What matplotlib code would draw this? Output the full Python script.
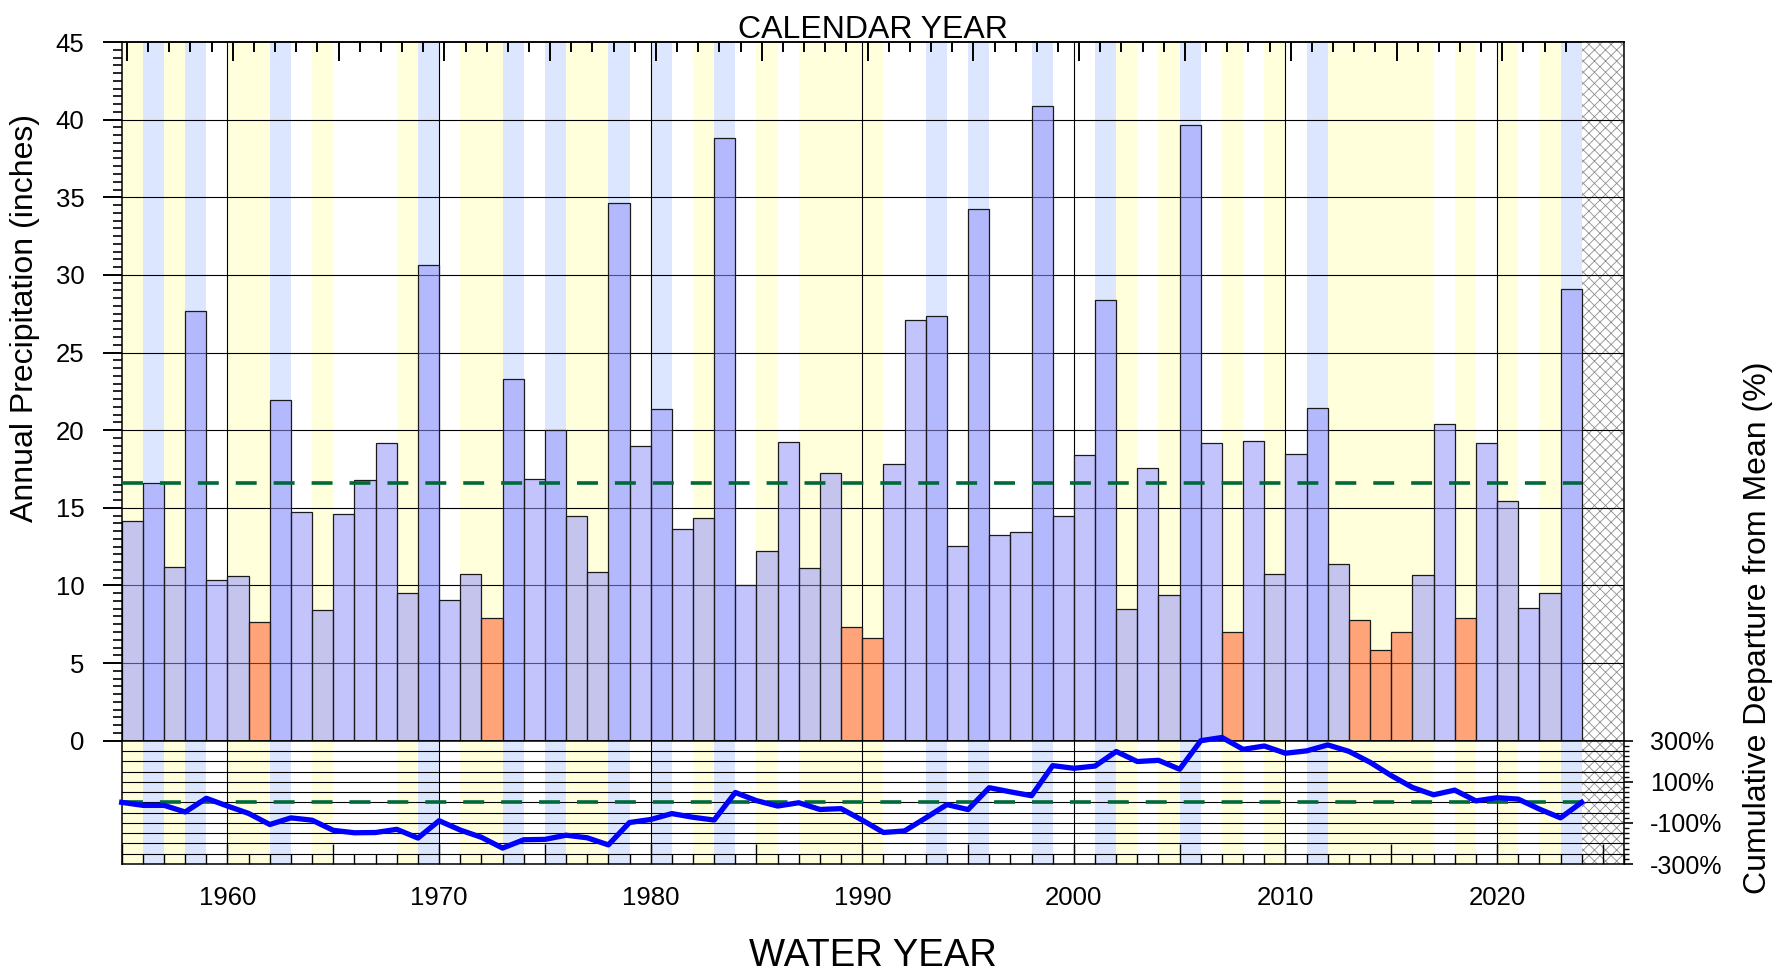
import numpy as np
import matplotlib
matplotlib.use("Agg")
from matplotlib import pyplot as plt
from matplotlib.ticker import MultipleLocator, FuncFormatter, NullFormatter

plt.rcParams['font.family'] = ['Liberation Sans', 'DejaVu Sans']
plt.rcParams['hatch.linewidth'] = 0.6

# Water years (bar spans [wy, wy+1])
years = np.arange(1955, 2024)

# Annual precipitation (inches)
precip = np.array([
    14.18, 16.59, 11.20, 27.67, 10.33, 10.63, 7.65, 21.95, 14.71, 8.40,   # 1955-64
    14.62, 16.80, 19.18, 9.53, 30.61, 9.05, 10.72, 7.89, 23.32, 16.88,    # 1965-74
    19.98, 14.50, 10.87, 34.66, 19.00, 21.38, 13.61, 14.35, 38.83, 10.04, # 1975-84
    12.21, 19.27, 11.14, 17.27, 7.30, 6.64, 17.84, 27.10, 27.34, 12.57,   # 1985-94
    34.25, 13.25, 13.46, 40.89, 14.44, 18.37, 28.38, 8.49, 17.54, 9.41,   # 1995-2004
    39.64, 19.18, 7.00, 19.30, 10.75, 18.49, 21.41, 11.38, 7.77, 5.87,    # 2005-14
    7.00, 10.66, 20.37, 7.89, 19.18, 15.43, 8.55, 9.50, 29.12,            # 2015-23
])

# background stripe per year: L = yellow, E = blue, N = none
enso = list(
    "LELENLLENLNNNLENLLEN"   # 1955-74
    "ELLENENLENLNLLLLNNEN"   # 1975-94
    "ENNENNELNLENLNLNELLL"   # 1995-2014
    "LLNLNLNLE"              # 2015-23
)

decades = [1960, 1970, 1980, 1990, 2000, 2010, 2020]
xmin, xmax = 1955, 2026

stripe_col = {'L': '#FFFFDC', 'E': '#DCE7FF'}
bar_blue = (147 / 255, 146 / 255, 253 / 255, 0.54)
bar_dry = (1.0, 85 / 255, 35 / 255, 0.54)
green = '#00693a'

mean = precip.mean()
pct = (precip - mean) / mean * 100.0
cum = np.concatenate([[0.0], np.cumsum(pct)])
cum_x = np.arange(years[0], years[-1] + 2)

fig = plt.figure(figsize=(17.82, 9.73), dpi=100)
L, R = 121.7 / 1782, 1624 / 1782
top_y = 1 - 42 / 973
mid_y = 1 - 740.7 / 973
bot_y = 1 - 864 / 973
ax = fig.add_axes([L, mid_y, R - L, top_y - mid_y])
ax2 = fig.add_axes([L, bot_y, R - L, mid_y - bot_y])

for a in (ax, ax2):
    for y, c in zip(years, enso):
        if c in stripe_col:
            a.axvspan(y, y + 1, color=stripe_col[c], lw=0, zorder=0)
    a.axvspan(years[-1] + 1, xmax, facecolor='white', edgecolor='#8e8e8e',
              hatch='xxx', lw=0, zorder=0.5)
    for d in decades:
        a.axvline(d, color='black', lw=0.8, zorder=1)
    a.set_xlim(xmin, xmax)
    for s in a.spines.values():
        s.set_linewidth(1.1)

# upper panel
for h in range(5, 45, 5):
    ax.axhline(h, color='black', lw=0.8, zorder=1)
cols = [bar_dry if p < 0.5 * mean else bar_blue for p in precip]
ax.bar(years, precip, width=1, align='edge', color=cols,
       edgecolor='#1a1a1a', linewidth=0.9, zorder=2)
ax.plot([years[0], years[-1] + 1], [mean, mean], color=green, lw=2.6,
        linestyle=(0, (5.8, 4.7)), zorder=3)
ax.set_ylim(0, 45)
ax.yaxis.set_major_locator(MultipleLocator(5))
ax.yaxis.set_minor_locator(MultipleLocator(0.5))
ax.tick_params(axis='y', which='major', direction='out', length=13.7, width=1.4,
               labelsize=18.5, pad=13)
ax.tick_params(axis='y', which='minor', direction='out', length=6.5, width=1.2)
ax.tick_params(axis='x', which='both', bottom=False, top=False,
               labelbottom=False)

# calendar year ticks along the top (calendar year starts 0.25 after water year)
sec = ax.secondary_xaxis('top', functions=(lambda x: x - 0.25, lambda x: x + 0.25))
sec.xaxis.set_major_locator(MultipleLocator(5))
sec.xaxis.set_minor_locator(MultipleLocator(1))
sec.xaxis.set_major_formatter(NullFormatter())
sec.tick_params(which='major', direction='in', length=13.7, width=1.4)
sec.tick_params(which='minor', direction='in', length=7, width=1.4)
sec.spines['top'].set_linewidth(1.1)

# lower panel
for h in np.arange(-250, 300, 50):
    ax2.axhline(h, color='black', lw=0.8, zorder=1)
ax2.plot([years[0], years[-1] + 1], [0, 0], color=green, lw=2.6,
         linestyle=(0, (5.8, 4.7)), zorder=3)
ax2.plot(cum_x, cum, color='#0000ff', lw=3.8, zorder=4, clip_on=False)
ax2.set_ylim(-300, 300)
ax2.yaxis.tick_right()
ax2.set_yticks([-300, -100, 100, 300])
ax2.yaxis.set_major_formatter(FuncFormatter(lambda v, p: f'{int(v)}%'))
ax2.yaxis.set_minor_locator(MultipleLocator(25))
ax2.tick_params(axis='y', which='major', direction='out', length=6.5, width=1.2,
                labelsize=18, pad=12)
ax2.tick_params(axis='y', which='minor', direction='out', length=3.6, width=1.0)
ax2.xaxis.set_major_locator(MultipleLocator(5))
ax2.xaxis.set_minor_locator(MultipleLocator(1))
ax2.xaxis.set_major_formatter(
    FuncFormatter(lambda v, p: f'{int(round(v))}' if int(round(v)) % 10 == 0 else ''))
ax2.tick_params(axis='x', which='major', direction='in', length=14.4, width=1.0,
                labelsize=18.5, pad=16)
ax2.tick_params(axis='x', which='minor', direction='in', length=7.2, width=1.0)

# titles / labels
fig.text(873 / 1782, 1 - 38 / 973, 'CALENDAR YEAR', fontsize=23,
         ha='center', va='baseline')
fig.text(873 / 1782, 1 - 966 / 973, 'WATER YEAR', fontsize=27.5,
         ha='center', va='baseline')
fig.text(25 / 1782, 1 - 114 / 973, 'Annual Precipitation (inches)', fontsize=23,
         rotation=90, ha='center', va='top')
fig.text(1758 / 1782, 1 - 628 / 973, 'Cumulative Departure from Mean (%)',
         fontsize=23, rotation=90, ha='center', va='center')

fig.savefig('out.png', dpi=100)
